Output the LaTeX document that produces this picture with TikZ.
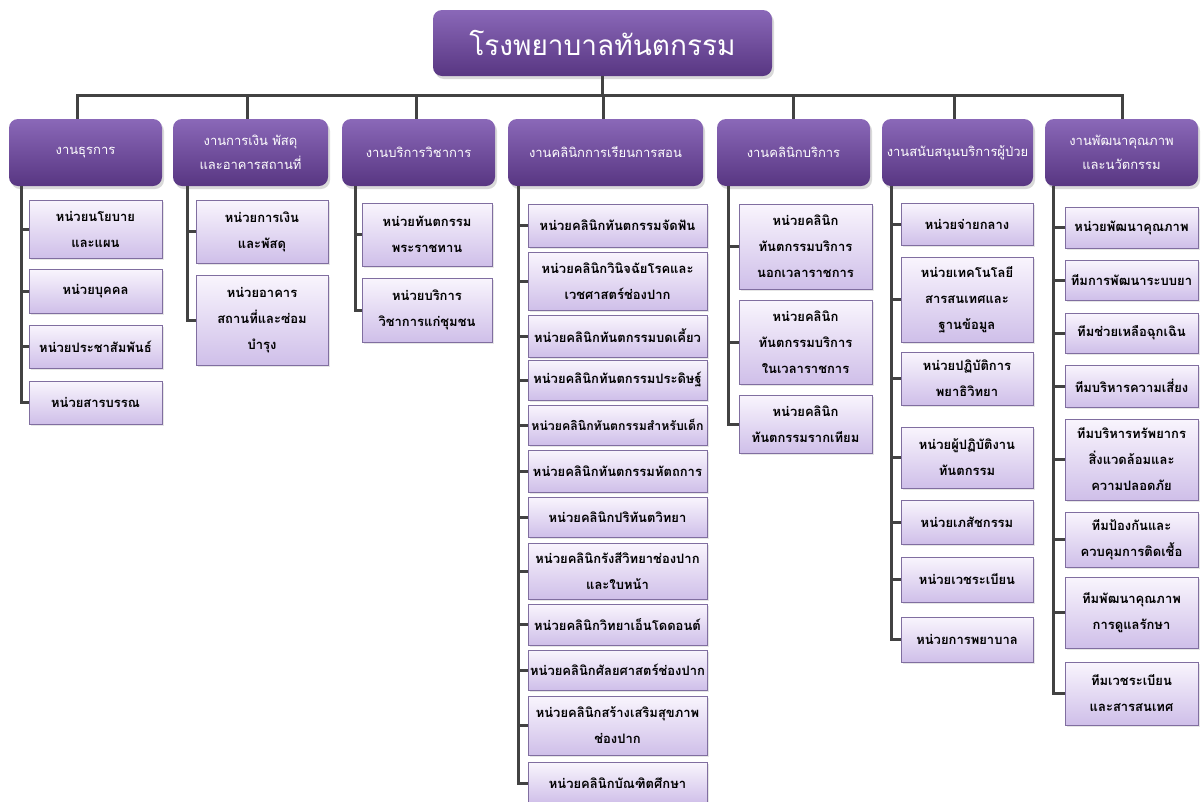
\documentclass[tikz,border=0pt]{standalone}
\usepackage{fontspec}
\newfontfamily\thaifont[Script=Thai]{Loma}
\usetikzlibrary{shadows}

\definecolor{hdtop}{RGB}{138,104,184}
\definecolor{hdbot}{RGB}{88,54,130}
\definecolor{untop}{RGB}{249,245,253}
\definecolor{unbot}{RGB}{207,191,233}
\definecolor{unline}{RGB}{128,110,160}
\definecolor{linegray}{RGB}{66,66,66}

\tikzset{every picture/.style={line width=0.75pt}}
\tikzset{
  topbox/.style={rounded corners=9pt, top color=hdtop, bottom color=hdbot, text=white,
    drop shadow={shadow xshift=2pt, shadow yshift=-3pt, opacity=0.3},
    font=\thaifont\fontsize{28}{32}\selectfont},
  headbox/.style={rounded corners=9pt, top color=hdtop, bottom color=hdbot, text=white,
    drop shadow={shadow xshift=2pt, shadow yshift=-3pt, opacity=0.3},
    align=center, minimum height=67pt, inner sep=1pt,
    font=\thaifont\fontsize{13}{24}\selectfont},
  unitbox/.style={draw=unline, line width=1pt, top color=untop, bottom color=unbot, text=black,
    drop shadow={shadow xshift=1.5pt, shadow yshift=-1.5pt, opacity=0.2},
    align=center, inner sep=1pt,
    font=\thaifont\bfseries\fontsize{13}{26}\selectfont},
  conn/.style={draw=linegray, line width=3pt}
}

\begin{document}
\begin{tikzpicture}[x=1pt,y=1pt,yscale=-1,xscale=1]
	\useasboundingbox (0,0) rectangle (1201,801);

	% Title
	\node[topbox, minimum width=339pt, minimum height=66pt] (top) at (602.5,43) {โรงพยาบาลทันตกรรม};

	% Divisions
	\node[headbox, minimum width=153pt] (h1) at (85.5,152.5) {งานธุรการ};
	\node[headbox, minimum width=155pt] (h2) at (250.5,152.5) {งานการเงิน พัสดุ\\และอาคารสถานที่};
	\node[headbox, minimum width=153pt] (h3) at (418.5,152.5) {งานบริการวิชาการ};
	\node[headbox, minimum width=195pt] (h4) at (605.5,152.5) {งานคลินิกการเรียนการสอน};
	\node[headbox, minimum width=153pt] (h5) at (793.5,152.5) {งานคลินิกบริการ};
	\node[headbox, minimum width=151pt] (h6) at (957.5,152.5) {งานสนับสนุนบริการผู้ป่วย};
	\node[headbox, minimum width=153pt] (h7) at (1121.5,152.5) {งานพัฒนาคุณภาพ\\และนวัตกรรม};

	% Bus
	\coordinate (t1) at (77,95);
	\coordinate (t2) at (247,95);
	\coordinate (t3) at (416,95);
	\coordinate (t4) at (603,95);
	\coordinate (t5) at (793,95);
	\coordinate (t6) at (954,95);
	\coordinate (t7) at (1122,95);
	\draw[conn] (top.south) -- (top.south |- t1);
	\draw[conn] (t1 |- h1.north) -- (t1) -- (t7) -- (t7 |- h7.north);
	\foreach \i in {2,...,6}
		\draw[conn] (t\i) -- (t\i |- h\i.north);

	% Column 1
	\node[unitbox, minimum width=133pt, minimum height=58pt] (a1) at (95.5,229) {หน่วยนโยบาย\\และแผน};
	\node[unitbox, minimum width=133pt, minimum height=44pt] (a2) at (95.5,291) {หน่วยบุคคล};
	\node[unitbox, minimum width=133pt, minimum height=43pt] (a3) at (95.5,346.5) {หน่วยประชาสัมพันธ์};
	\node[unitbox, minimum width=133pt, minimum height=43pt] (a4) at (95.5,402.5) {หน่วยสารบรรณ};

	% Column 2
	\node[unitbox, minimum width=132pt, minimum height=63pt] (b1) at (262,231.5) {หน่วยการเงิน\\และพัสดุ};
	\node[unitbox, minimum width=132pt, minimum height=90pt] (b2) at (262,320) {หน่วยอาคาร\\สถานที่และซ่อม\\บำรุง};

	% Column 3
	\node[unitbox, minimum width=130pt, minimum height=63pt] (c1) at (427,234.5) {หน่วยทันตกรรม\\พระราชทาน};
	\node[unitbox, minimum width=130pt, minimum height=64pt] (c2) at (427,310) {หน่วยบริการ\\วิชาการแก่ชุมชน};

	% Column 4
	\node[unitbox, minimum width=179pt, minimum height=43pt] (d1) at (617.5,225.5) {หน่วยคลินิกทันตกรรมจัดฟัน};
	\node[unitbox, minimum width=179pt, minimum height=58pt] (d2) at (617.5,281) {หน่วยคลินิกวินิจฉัยโรคและ\\เวชศาสตร์ช่องปาก};
	\node[unitbox, minimum width=179pt, minimum height=42pt] (d3) at (617.5,336) {หน่วยคลินิกทันตกรรมบดเคี้ยว};
	\node[unitbox, minimum width=179pt, minimum height=40pt] (d4) at (617.5,380) {หน่วยคลินิกทันตกรรมประดิษฐ์};
	\node[unitbox, minimum width=179pt, minimum height=40pt, font=\thaifont\bfseries\fontsize{12.3}{26}\selectfont] (d5) at (617.5,425) {หน่วยคลินิกทันตกรรมสำหรับเด็ก};
	\node[unitbox, minimum width=179pt, minimum height=42pt] (d6) at (617.5,471) {หน่วยคลินิกทันตกรรมหัตถการ};
	\node[unitbox, minimum width=179pt, minimum height=40pt] (d7) at (617.5,517) {หน่วยคลินิกปริทันตวิทยา};
	\node[unitbox, minimum width=179pt, minimum height=56pt] (d8) at (617.5,571) {หน่วยคลินิกรังสีวิทยาช่องปาก\\และใบหน้า};
	\node[unitbox, minimum width=179pt, minimum height=41pt] (d9) at (617.5,624.5) {หน่วยคลินิกวิทยาเอ็นโดดอนต์};
	\node[unitbox, minimum width=179pt, minimum height=40pt] (d10) at (617.5,670) {หน่วยคลินิกศัลยศาสตร์ช่องปาก};
	\node[unitbox, minimum width=179pt, minimum height=59pt] (d11) at (617.5,725.5) {หน่วยคลินิกสร้างเสริมสุขภาพ\\ช่องปาก};
	\node[unitbox, minimum width=179pt, minimum height=41pt] (d12) at (617.5,783) {หน่วยคลินิกบัณฑิตศึกษา};

	% Column 5
	\node[unitbox, minimum width=133pt, minimum height=85pt] (e1) at (805.5,246.5) {หน่วยคลินิก\\ทันตกรรมบริการ\\นอกเวลาราชการ};
	\node[unitbox, minimum width=133pt, minimum height=84pt] (e2) at (805.5,342) {หน่วยคลินิก\\ทันตกรรมบริการ\\ในเวลาราชการ};
	\node[unitbox, minimum width=133pt, minimum height=58pt] (e3) at (805.5,424) {หน่วยคลินิก\\ทันตกรรมรากเทียม};

	% Column 6
	\node[unitbox, minimum width=132pt, minimum height=42pt] (f1) at (967,224) {หน่วยจ่ายกลาง};
	\node[unitbox, minimum width=132pt, minimum height=85pt] (f2) at (967,299.5) {หน่วยเทคโนโลยี\\สารสนเทศและ\\ฐานข้อมูล};
	\node[unitbox, minimum width=132pt, minimum height=53pt] (f3) at (967,378.5) {หน่วยปฏิบัติการ\\พยาธิวิทยา};
	\node[unitbox, minimum width=132pt, minimum height=61pt] (f4) at (967,457.5) {หน่วยผู้ปฏิบัติงาน\\ทันตกรรม};
	\node[unitbox, minimum width=132pt, minimum height=44pt] (f5) at (967,522) {หน่วยเภสัชกรรม};
	\node[unitbox, minimum width=132pt, minimum height=45pt] (f6) at (967,579.5) {หน่วยเวชระเบียน};
	\node[unitbox, minimum width=132pt, minimum height=45pt] (f7) at (967,639.5) {หน่วยการพยาบาล};

	% Column 7
	\node[unitbox, minimum width=133pt, minimum height=41pt] (g1) at (1131.5,227.5) {หน่วยพัฒนาคุณภาพ};
	\node[unitbox, minimum width=133pt, minimum height=40pt] (g2) at (1131.5,280) {ทีมการพัฒนาระบบยา};
	\node[unitbox, minimum width=133pt, minimum height=40pt] (g3) at (1131.5,333) {ทีมช่วยเหลือฉุกเฉิน};
	\node[unitbox, minimum width=133pt, minimum height=42pt] (g4) at (1131.5,386) {ทีมบริหารความเสี่ยง};
	\node[unitbox, minimum width=133pt, minimum height=81pt] (g5) at (1131.5,459.5) {ทีมบริหารทรัพยากร\\สิ่งแวดล้อมและ\\ความปลอดภัย};
	\node[unitbox, minimum width=133pt, minimum height=55pt] (g6) at (1131.5,539.5) {ทีมป้องกันและ\\ควบคุมการติดเชื้อ};
	\node[unitbox, minimum width=133pt, minimum height=71pt] (g7) at (1131.5,612.5) {ทีมพัฒนาคุณภาพ\\การดูแลรักษา};
	\node[unitbox, minimum width=133pt, minimum height=63pt] (g8) at (1131.5,693.5) {ทีมเวชระเบียน\\และสารสนเทศ};

	% Spines
	\coordinate (s1) at (21,186);
	\coordinate (s2) at (187,186);
	\coordinate (s3) at (355,186);
	\coordinate (s4) at (518,186);
	\coordinate (s5) at (728,186);
	\coordinate (s6) at (891,186);
	\coordinate (s7) at (1053,186);
	\draw[conn] (s1) |- (a4.west);
	\draw[conn] (s2) |- (b2.west);
	\draw[conn] (s3) |- (c2.west);
	\draw[conn] (s4) |- (d12.west);
	\draw[conn] (s5) |- (e3.west);
	\draw[conn] (s6) |- (f7.west);
	\draw[conn] (s7) |- (g8.west);
	\foreach \n in {a1,a2,a3} \draw[conn] (\n.west -| s1) -- (\n.west);
	\draw[conn] (b1.west -| s2) -- (b1.west);
	\draw[conn] (c1.west -| s3) -- (c1.west);
	\foreach \n in {d1,d2,d3,d4,d5,d6,d7,d8,d9,d10,d11} \draw[conn] (\n.west -| s4) -- (\n.west);
	\foreach \n in {e1,e2} \draw[conn] (\n.west -| s5) -- (\n.west);
	\foreach \n in {f1,f2,f3,f4,f5,f6} \draw[conn] (\n.west -| s6) -- (\n.west);
	\foreach \n in {g1,g2,g3,g4,g5,g6,g7} \draw[conn] (\n.west -| s7) -- (\n.west);

\end{tikzpicture}
\end{document}
